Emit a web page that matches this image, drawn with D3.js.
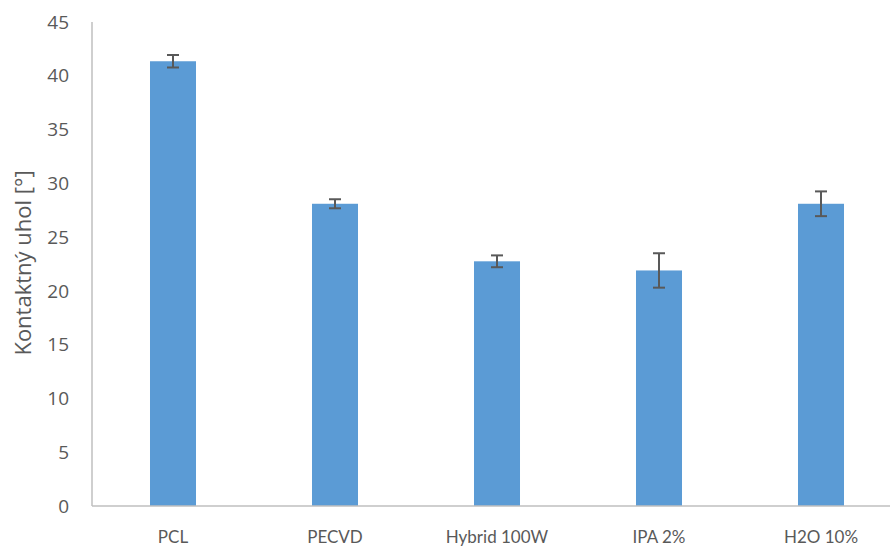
<!DOCTYPE html>
<html>
<head>
<meta charset="utf-8">
<script src="https://cdn.jsdelivr.net/npm/d3@7"></script>
<style>
  body { margin: 0; background: #fff; }
  text { font-family: "Open Sans", "Noto Sans", sans-serif; fill: #595959; }
</style>
</head>
<body>
<div id="chart"></div>
<script>
const WIDTH = 890, HEIGHT = 548;
const M = { top: 22, right: -12, bottom: 42, left: 92 };
const innerW = WIDTH - M.left - M.right;
const innerH = HEIGHT - M.top - M.bottom;

const categories = ["PCL", "PECVD", "Hybrid 100W", "IPA 2%", "H2O 10%"];
const values = [41.35, 28.1, 22.75, 21.9, 28.1];
const errors = [0.58, 0.42, 0.55, 1.6, 1.15];
const yTicks = [0, 5, 10, 15, 20, 25, 30, 35, 40, 45];

const svg = d3.select("#chart").append("svg")
  .attr("width", WIDTH).attr("height", HEIGHT);
const g = svg.append("g").attr("transform", `translate(${M.left},${M.top})`);

const x = d3.scaleBand().domain(categories).range([0, innerW]).padding(0);
const y = d3.scaleLinear().domain([0, 45]).range([innerH, 0]);
const barW = x.bandwidth() * 0.284;

// y tick labels
g.selectAll(".ytick").data(yTicks).join("text")
  .attr("class", "ytick")
  .attr("x", -23).attr("y", d => y(d))
  .attr("dy", "0.35em")
  .attr("text-anchor", "end")
  .style("font-size", "19px")
  .text(d => d);

// bars
g.selectAll(".bar").data(categories).join("rect")
  .attr("class", "bar")
  .attr("x", d => x(d) + x.bandwidth() / 2 - barW / 2)
  .attr("y", (d, i) => y(values[i]))
  .attr("width", barW)
  .attr("height", (d, i) => innerH - y(values[i]))
  .attr("fill", "#5b9bd5");

// error bars
const eb = g.selectAll(".err").data(categories).join("g")
  .attr("class", "err")
  .attr("transform", d => `translate(${x(d) + x.bandwidth() / 2},0)`)
  .attr("stroke", "#595959").attr("stroke-width", 2);
eb.append("line")
  .attr("y1", (d, i) => y(values[i] + errors[i]))
  .attr("y2", (d, i) => y(values[i] - errors[i]));
eb.append("line").attr("x1", -6).attr("x2", 6)
  .attr("y1", (d, i) => y(values[i] + errors[i]))
  .attr("y2", (d, i) => y(values[i] + errors[i]));
eb.append("line").attr("x1", -6).attr("x2", 6)
  .attr("y1", (d, i) => y(values[i] - errors[i]))
  .attr("y2", (d, i) => y(values[i] - errors[i]));

// axes lines
g.append("line").attr("x1", 0).attr("x2", 0).attr("y1", 0).attr("y2", innerH)
  .attr("stroke", "#bfbfbf").attr("stroke-width", 1.5);
g.append("line").attr("x1", 0).attr("x2", innerW).attr("y1", innerH).attr("y2", innerH)
  .attr("stroke", "#bfbfbf").attr("stroke-width", 1.5);

// x labels
g.selectAll(".xlab").data(categories).join("text")
  .attr("class", "xlab")
  .attr("x", d => x(d) + x.bandwidth() / 2)
  .attr("y", innerH + 37)
  .attr("text-anchor", "middle")
  .style("font-family", "Lato, sans-serif")
  .style("font-size", "17px")
  .text(d => d);

svg.append("text")
  .attr("transform", `translate(23, 263) rotate(-90)`)
  .attr("text-anchor", "middle")
  .attr("dy", "0.35em")
  .style("font-size", "22px")
  .text("Kontaktný uhol [°]");
</script>
</body>
</html>
